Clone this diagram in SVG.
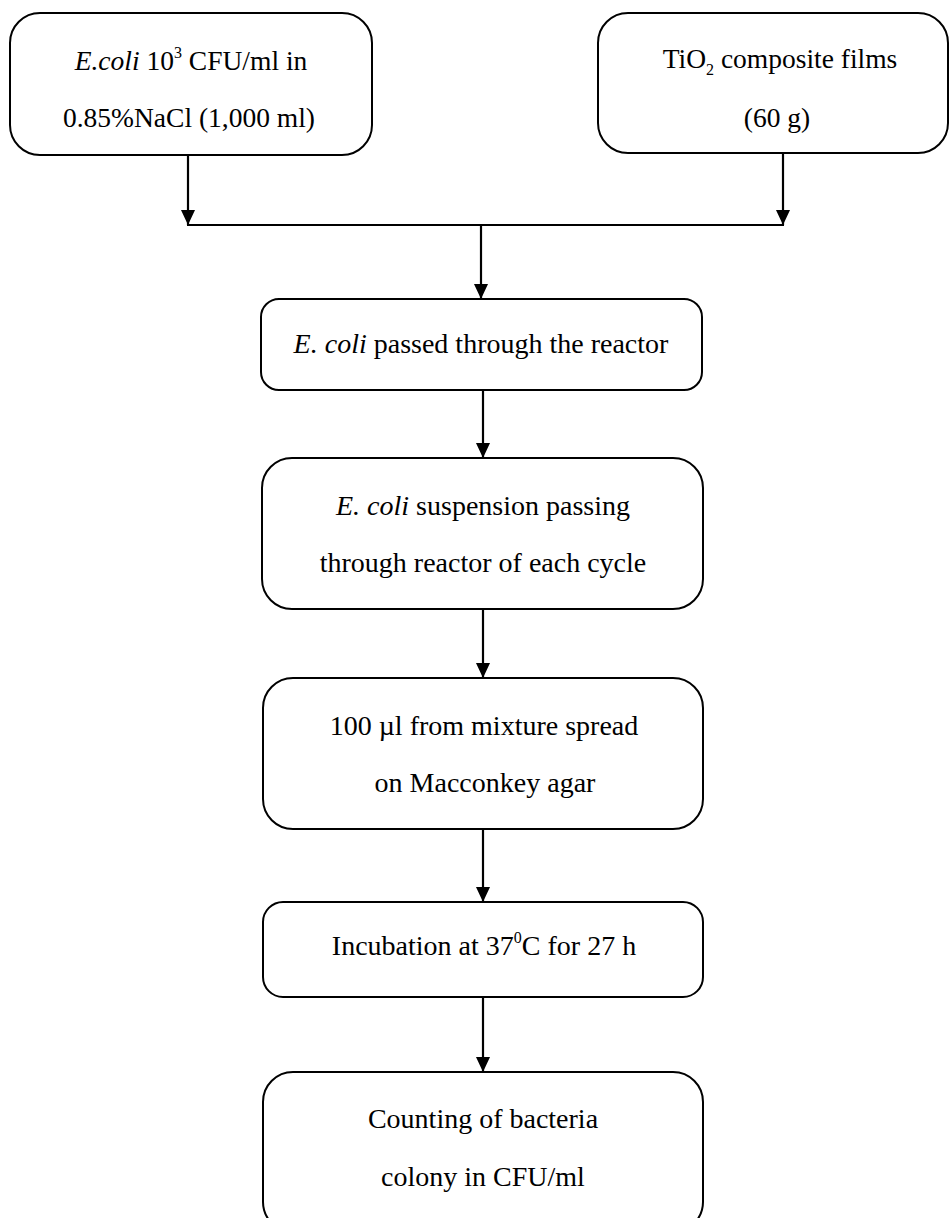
<svg xmlns="http://www.w3.org/2000/svg" width="950" height="1218" viewBox="0 0 950 1218">
  <style>
    .box { fill: #ffffff; stroke: #000000; stroke-width: 2; }
    .lbl { font-family: "Liberation Serif", "Times New Roman", serif; font-size: 28px; fill: #000000; text-anchor: middle; }
    .top { font-size: 27.5px; }
    .it { font-style: italic; }
    .sup { font-size: 16px; }
    .wire { fill: none; stroke: #000000; stroke-width: 2.2; }
  </style>
  <defs>
    <!-- filled arrowhead, drawn along +x so orient="auto" points it down the line -->
    <marker id="head" viewBox="0 0 15 14" refX="15" refY="7" markerWidth="15" markerHeight="14" markerUnits="userSpaceOnUse" orient="auto">
      <path d="M0,0 L15,7 L0,14 Z" fill="#000000"/>
    </marker>
  </defs>
  <rect width="950" height="1218" fill="#ffffff"/>

  <g id="connectors">
    <line class="wire" x1="188" y1="155" x2="188" y2="225" marker-end="url(#head)"/>
    <line class="wire" x1="783" y1="153" x2="783" y2="225" marker-end="url(#head)"/>
    <line class="wire" x1="187" y1="225" x2="784" y2="225"/>
    <line class="wire" x1="481" y1="225" x2="481" y2="299" marker-end="url(#head)"/>
    <line class="wire" x1="483" y1="390" x2="483" y2="458" marker-end="url(#head)"/>
    <line class="wire" x1="483" y1="609" x2="483" y2="678" marker-end="url(#head)"/>
    <line class="wire" x1="483" y1="829" x2="483" y2="902" marker-end="url(#head)"/>
    <line class="wire" x1="483" y1="997" x2="483" y2="1072" marker-end="url(#head)"/>
  </g>

  <g id="ecoli-input">
    <rect class="box" x="10" y="13" width="362" height="142" rx="30" ry="30"/>
    <text class="lbl top" x="191" y="70"><tspan class="it">E.coli</tspan> 10<tspan class="sup" dy="-12">3</tspan><tspan dy="12"> CFU/ml in</tspan></text>
    <text class="lbl top" x="189" y="127">0.85%NaCl (1,000 ml)</text>
  </g>

  <g id="tio2-films">
    <rect class="box" x="598" y="13" width="350" height="140" rx="30" ry="30"/>
    <text class="lbl top" x="780" y="68">TiO<tspan class="sup" dy="7">2</tspan><tspan dy="-7"> composite films</tspan></text>
    <text class="lbl top" x="777" y="127">(60 g)</text>
  </g>

  <g id="reactor-pass">
    <rect class="box" x="261" y="299" width="441" height="91" rx="18" ry="18"/>
    <text class="lbl" x="481" y="353"><tspan class="it">E. coli</tspan> passed through the reactor</text>
  </g>

  <g id="suspension-cycle">
    <rect class="box" x="262" y="458" width="441" height="151" rx="30" ry="30"/>
    <text class="lbl" x="483" y="515"><tspan class="it">E. coli</tspan> suspension passing</text>
    <text class="lbl" x="483" y="572">through reactor of each cycle</text>
  </g>

  <g id="spread-agar">
    <rect class="box" x="263" y="678" width="440" height="151" rx="30" ry="30"/>
    <text class="lbl" x="484" y="735">100 µl from mixture spread</text>
    <text class="lbl" x="485" y="792">on Macconkey agar</text>
  </g>

  <g id="incubation">
    <rect class="box" x="263" y="902" width="440" height="95" rx="20" ry="20"/>
    <text class="lbl" x="484" y="955">Incubation at 37<tspan class="sup" dy="-12">0</tspan><tspan dy="12">C for 27 h</tspan></text>
  </g>

  <g id="colony-count">
    <rect class="box" x="263" y="1072" width="440" height="160" rx="30" ry="30"/>
    <text class="lbl" x="483" y="1128">Counting of bacteria</text>
    <text class="lbl" x="483" y="1186">colony in CFU/ml</text>
  </g>
</svg>
